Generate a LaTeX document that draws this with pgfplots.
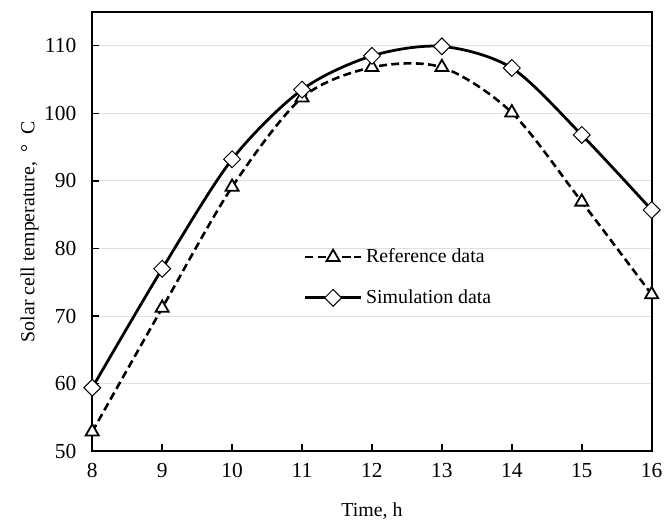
\documentclass[border=0pt]{standalone}
\usepackage{fontspec}
\setmainfont{Liberation Serif}
\usepackage{pgfplots}
\pgfplotsset{compat=1.18}
\usetikzlibrary{plotmarks}

\begin{document}
\begin{tikzpicture}
\begin{axis}[
    scale only axis,
    width=282pt, height=221.5pt,
    xmin=8, xmax=16, ymin=50, ymax=115,
    xtick={8,...,16},
    ytick={50,60,...,110},
    /pgf/number format/assume math mode=true,
    ticklabel style={font=\fontsize{10.8}{13}\selectfont},
    yticklabel style={xshift=-4.5pt},
    xticklabel style={yshift=-2.5pt},
    tick align=inside,
    xtick pos=bottom, ytick pos=left,
    major tick length=3.5pt,
    tick style={black, line width=0.8pt},
    axis line style={line width=1pt},
    ymajorgrids,
    major grid style={line width=0.6pt, color=black!12},
    xlabel={Time, h},
    ylabel={Solar cell temperature,~~°~~C},
    xlabel style={yshift=-5.5pt},
    ylabel style={yshift=-4pt},
    legend style={draw=none, fill=none, at={(0.367,0.48)}, anchor=north west,
        row sep=8pt, font=\normalsize},
    legend cell align=left,
    legend image code/.code={
        \draw[mark repeat=2,mark phase=2] plot coordinates {(0pt,0pt) (14pt,0pt) (28pt,0pt)};
    },
]
\addplot[black, line width=1.3pt, smooth, dash pattern=on 4pt off 2.2pt,
    mark=triangle*, mark size=3.8pt,
    mark options={solid, fill=white, draw=black, line width=0.9pt}]
  coordinates {(8,52.9)(9,71.2)(10,89.1)(11,102.3)(12,106.8)(13,106.8)(14,100.1)(15,86.9)(16,73.2)};
\addlegendentry{Reference data}
\addplot[black, line width=1.4pt, smooth,
    mark=square*, mark size=3pt,
    mark options={solid, rotate=45, fill=white, draw=black, line width=0.5pt}]
  coordinates {(8,59.4)(9,77.0)(10,93.2)(11,103.5)(12,108.5)(13,109.9)(14,106.7)(15,96.8)(16,85.7)};
\addlegendentry{Simulation data}
\end{axis}
\path (current axis.north east) ++(6pt,6pt);
\path (current axis.south west) ++(-46.5pt,-32.5pt);
\end{tikzpicture}
\end{document}
